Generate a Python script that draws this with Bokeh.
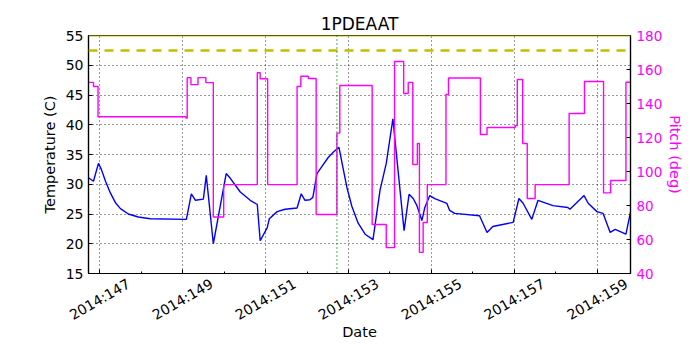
from bokeh.plotting import figure
from bokeh.models import (Range1d, LinearAxis, FixedTicker, Span, CustomJSTickFormatter)
from bokeh.embed import file_html
from bokeh.resources import INLINE
import math

# ---- data ----
temp_day = [146.73, 146.85, 146.97, 147.04, 147.14, 147.26, 147.38, 147.50, 147.69, 147.93,
            148.22, 149.09, 149.21, 149.31, 149.50, 149.57, 149.74, 150.05, 150.15, 150.39,
            150.63, 150.80, 150.87, 151.04, 151.09, 151.28, 151.47, 151.76, 151.86, 151.95,
            152.07, 152.14, 152.24, 152.36, 152.51, 152.65, 152.77, 152.86, 152.96, 153.08,
            153.23, 153.40, 153.59, 153.76, 153.91, 154.07, 154.34, 154.46, 154.56, 154.65,
            154.77, 154.84, 154.96, 155.08, 155.37, 155.44, 155.56, 156.16, 156.34, 156.48,
            156.97, 157.11, 157.21, 157.42, 157.57, 157.93, 158.29, 158.34, 158.68, 158.78,
            158.99, 159.14, 159.31, 159.43, 159.69, 159.80]
temp_val = [31.1, 30.5, 33.5, 32.5, 30.5, 28.5, 26.9, 25.9, 25.0, 24.5,
            24.2, 24.1, 28.4, 27.3, 27.5, 31.5, 20.0, 31.8, 31.0, 28.7,
            27.3, 26.6, 20.5, 22.7, 24.2, 25.4, 25.8, 26.0, 28.4, 27.3,
            27.4, 27.8, 31.8, 33.0, 34.5, 35.5, 36.2, 33.0, 29.5, 26.3,
            23.5, 21.6, 20.7, 29.0, 33.5, 41.0, 22.2, 28.3, 27.6, 26.4,
            23.9, 26.1, 28.1, 27.6, 26.8, 25.6, 25.1, 24.7, 21.9, 22.9,
            23.6, 27.6, 26.8, 24.1, 27.3, 26.4, 26.1, 25.8, 28.1, 26.8,
            25.4, 25.1, 21.9, 22.4, 21.6, 25.3]

pitch_day = [146.73, 146.85, 146.96, 149.08, 149.11, 149.20, 149.37, 149.56, 149.74, 149.99,
             150.80, 150.87, 151.05, 151.76, 151.85, 152.03, 152.22, 152.72, 152.79, 153.57,
             153.91, 154.11, 154.33, 154.44, 154.55, 154.66, 154.71, 154.80, 154.90, 155.35,
             155.41, 156.18, 156.34, 157.02, 157.07, 157.20, 157.31, 157.50, 158.32, 158.69,
             159.15, 159.32, 159.69, 159.80]
pitch_val = [152.4, 150.0, 132.2, 131.4, 155.2, 151.1, 155.2, 152.3, 73.2, 92.3,
             158.1, 154.6, 92.3, 150.0, 156.0, 154.7, 74.7, 122.6, 150.6, 68.8,
             55.2, 164.7, 145.9, 152.4, 104.1, 116.5, 52.4, 70.0, 92.3, 145.3,
             155.0, 121.8, 125.9, 127.0, 154.1, 116.5, 84.1, 92.3, 134.1, 152.9,
             87.4, 94.7, 152.5, 152.5]

temp_limit = 55.0
planning_limit = 52.5
event_day = 152.72

x_ticks = [147, 149, 151, 153, 155, 157, 159]
x_minor = [147, 148, 149, 150, 151, 152, 153, 154, 155, 156, 157, 158, 159]
y_ticks = [15, 20, 25, 30, 35, 40, 45, 50, 55]
pitch_ticks = [40, 60, 80, 100, 120, 140, 160, 180]

FONT = "DejaVu Sans"
MAG = "#ff00ff"
LABEL_SHIFT = 0.70  # centre rotated date labels on their ticks

p = figure(width=700, height=350, output_backend="svg", toolbar_location=None,
           x_range=Range1d(146.73, 159.80), y_range=Range1d(15, 55),
           min_border_left=88, min_border_right=70, min_border_top=35, min_border_bottom=77,
           title="1PDEAAT")
p.title.align = "center"
p.title.text_font = FONT
p.title.text_font_size = "17px"
p.title.text_font_style = "normal"
p.title.text_color = "black"
p.title.standoff = 4

p.extra_y_ranges = {"pitch": Range1d(40, 180)}

p.outline_line_color = "black"
p.outline_line_width = 1.2
p.background_fill_color = "white"
p.border_fill_color = "white"

# grids
for g in (p.xgrid, p.ygrid):
    g.grid_line_color = "black"
    g.grid_line_dash = "1 3"
    g.grid_line_width = 1
    g.grid_line_alpha = 0.8
p.xgrid.ticker = FixedTicker(ticks=x_ticks)
p.ygrid.ticker = FixedTicker(ticks=y_ticks)

# x axis (ticks only)
xa = p.xaxis[0]
xa.ticker = FixedTicker(ticks=x_ticks, minor_ticks=x_minor)
xa.major_label_text_font_size = "1px"
xa.major_label_text_color = None
xa.major_label_standoff = 0

# x axis labels, rotated and centred on ticks
xl = LinearAxis(ticker=FixedTicker(ticks=[t + LABEL_SHIFT for t in x_ticks]),
                formatter=CustomJSTickFormatter(
                    code="return '2014:' + Math.round(tick - %s).toString();" % LABEL_SHIFT),
                axis_label="Date")
p.add_layout(xl, "below")
xl.axis_line_color = None
xl.major_tick_line_color = None
xl.minor_tick_line_color = None
xl.major_label_orientation = math.pi / 6
xl.major_label_standoff = 3
xl.major_label_text_font = FONT
xl.major_label_text_font_size = "14px"
xl.major_label_text_color = "black"
xl.axis_label_text_font = FONT
xl.axis_label_text_font_size = "14.5px"
xl.axis_label_text_font_style = "normal"
xl.axis_label_text_color = "black"
xl.axis_label_standoff = -9

# left axis
ya = p.yaxis[0]
ya.ticker = FixedTicker(ticks=y_ticks)
ya.axis_label = "Temperature (C)"
ya.axis_label_standoff = 5

# right axis
ra = LinearAxis(y_range_name="pitch", axis_label="Pitch (deg)",
                ticker=FixedTicker(ticks=pitch_ticks))
p.add_layout(ra, "right")

for ax in (xa, ya, ra):
    ax.major_tick_in = 4
    ax.major_tick_out = 0
    ax.minor_tick_in = 2
    ax.minor_tick_out = 0
    ax.axis_line_color = "black"
    ax.axis_line_width = 1.2
    ax.axis_label_text_font = FONT
    ax.axis_label_text_font_size = "14.5px"
    ax.axis_label_text_font_style = "normal"
    ax.axis_label_text_color = "black"
ya.major_label_text_font = FONT
ya.major_label_text_font_size = "14px"
ya.major_label_text_color = "black"
ra.major_label_text_font = FONT
ra.major_label_text_font_size = "13.5px"
ya.minor_tick_line_color = None
ra.minor_tick_line_color = None
ra.major_label_text_color = MAG
ra.axis_label_text_color = MAG
ra.major_label_standoff = 6
ra.axis_label_standoff = 2

# lines
p.line(temp_day, temp_val, line_color="#0000ff", line_width=1.4)
p.step(pitch_day, pitch_val, mode="after", y_range_name="pitch",
       line_color=MAG, line_width=1.4)

p.add_layout(Span(location=planning_limit, dimension="width", line_color="#bfbf00",
                  line_width=2.5, line_dash="9 7"))
p.add_layout(Span(location=temp_limit, dimension="width", line_color="#bfbf00",
                  line_width=2))
p.add_layout(Span(location=event_day, dimension="height", line_color="#008000",
                  line_width=1.3, line_dash="1 3"))

open("out.html", "w").write(file_html(p, INLINE))
